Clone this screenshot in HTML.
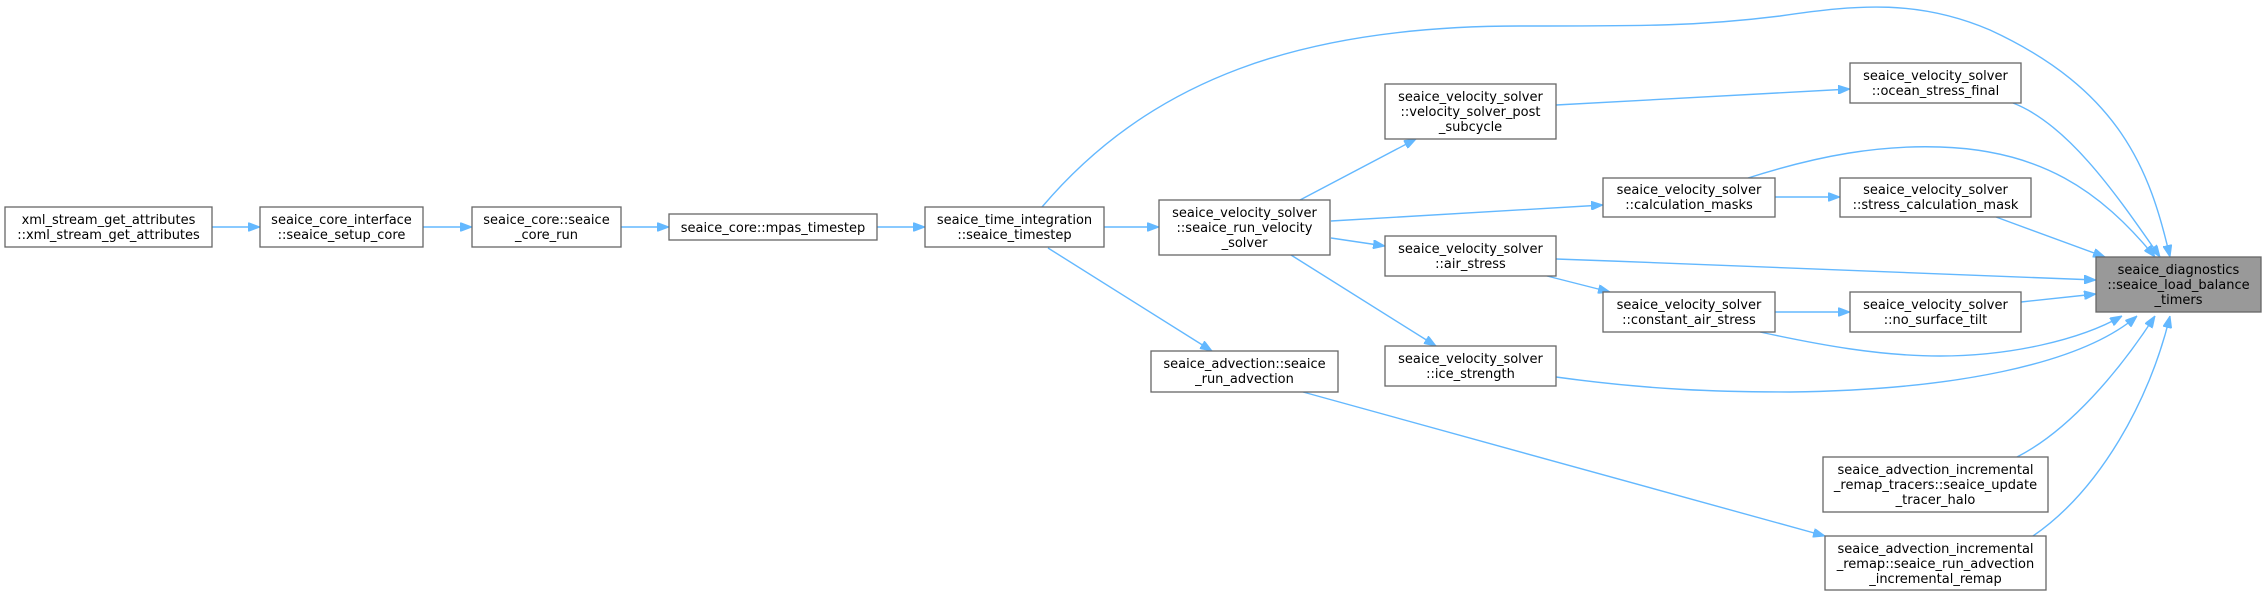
<!DOCTYPE html>
<html><head><meta charset="utf-8"><style>
html,body{margin:0;padding:0;background:#fff;}
svg{display:block;}
text{font-family:"DejaVu Sans","Liberation Sans",sans-serif;font-size:13px;fill:#000;text-anchor:middle;}
.n{fill:#fff;stroke:#666;stroke-width:1.3;}
.e{fill:none;stroke:#63b8ff;stroke-width:1.4;}
</style></head><body>
<svg width="2267" height="598" viewBox="0 0 2267 598" xmlns="http://www.w3.org/2000/svg">
<defs><marker id="a" viewBox="0 0 12 9" refX="12" refY="4.5" markerWidth="12" markerHeight="9" markerUnits="userSpaceOnUse" orient="auto"><path d="M0,0 L12,4.5 L0,9 z" fill="#63b8ff" stroke="#63b8ff"/></marker></defs>

<g class="edges">
<path class="e" marker-end="url(#a)" d="M212,227 L260,227"/>
<path class="e" marker-end="url(#a)" d="M423,227 L472,227"/>
<path class="e" marker-end="url(#a)" d="M621,227 L669,227"/>
<path class="e" marker-end="url(#a)" d="M877,227 L925,227"/>
<path class="e" marker-end="url(#a)" d="M1104,227 L1159,227"/>
<path class="e" marker-end="url(#a)" d="M1048,248 L1212,351"/>
<path class="e" marker-end="url(#a)" d="M1042,207 C1150,80 1300,26 1520,26 C1650,26 1700,26 1780,16 C1860,4 1920,0 1990,30 C2120,90 2150,170 2170,257"/>
<path class="e" marker-end="url(#a)" d="M1300,200 L1416,139"/>
<path class="e" marker-end="url(#a)" d="M1331,221 L1603,205"/>
<path class="e" marker-end="url(#a)" d="M1331,238 L1385,246"/>
<path class="e" marker-end="url(#a)" d="M1291,255 L1436,346"/>
<path class="e" marker-end="url(#a)" d="M1556,105 L1850,89"/>
<path class="e" marker-end="url(#a)" d="M2013,103 C2070,125 2120,200 2160,257"/>
<path class="e" marker-end="url(#a)" d="M1748,178 C1820,155 1880,145 1940,147 C2040,150 2100,190 2155,257"/>
<path class="e" marker-end="url(#a)" d="M1775,197 L1840,197"/>
<path class="e" marker-end="url(#a)" d="M1996,217 L2105,257"/>
<path class="e" marker-end="url(#a)" d="M1556,259 C1750,266 1950,274 2096,280"/>
<path class="e" marker-end="url(#a)" d="M1547,276 L1610,292"/>
<path class="e" marker-end="url(#a)" d="M1775,312 L1850,312"/>
<path class="e" marker-end="url(#a)" d="M2021,302 L2096,294"/>
<path class="e" marker-end="url(#a)" d="M1760,332 C1820,345 1880,356 1940,356 C2010,356 2080,340 2122,316"/>
<path class="e" marker-end="url(#a)" d="M1556,377 C1650,390 1720,392 1790,392 C1950,390 2080,365 2137,316"/>
<path class="e" marker-end="url(#a)" d="M1303,392 L1825,536"/>
<path class="e" marker-end="url(#a)" d="M2017,457 C2070,430 2120,370 2155,316"/>
<path class="e" marker-end="url(#a)" d="M2033,536 C2100,490 2150,400 2170,316"/>
</g>

<g>
<rect class="n" x="5" y="207" width="207" height="40"/>
<text x="108.5" y="224">xml_stream_get_attributes</text><text x="108.5" y="239">::xml_stream_get_attributes</text>

<rect class="n" x="260" y="207" width="163" height="40"/>
<text x="341.5" y="224">seaice_core_interface</text><text x="341.5" y="239">::seaice_setup_core</text>

<rect class="n" x="472" y="207" width="149" height="40"/>
<text x="546.5" y="224">seaice_core::seaice</text><text x="546.5" y="239">_core_run</text>

<rect class="n" x="669" y="214" width="208" height="26"/>
<text x="773" y="232">seaice_core::mpas_timestep</text>

<rect class="n" x="925" y="207" width="179" height="40"/>
<text x="1014.5" y="224">seaice_time_integration</text><text x="1014.5" y="239">::seaice_timestep</text>

<rect class="n" x="1159" y="200" width="171" height="55"/>
<text x="1244.5" y="217">seaice_velocity_solver</text><text x="1244.5" y="232">::seaice_run_velocity</text><text x="1244.5" y="247">_solver</text>

<rect class="n" x="1151" y="351" width="187" height="41"/>
<text x="1244.5" y="368">seaice_advection::seaice</text><text x="1244.5" y="383">_run_advection</text>

<rect class="n" x="1385" y="84" width="171" height="55"/>
<text x="1470.5" y="101">seaice_velocity_solver</text><text x="1470.5" y="116">::velocity_solver_post</text><text x="1470.5" y="131">_subcycle</text>

<rect class="n" x="1385" y="236" width="171" height="40"/>
<text x="1470.5" y="253">seaice_velocity_solver</text><text x="1470.5" y="268">::air_stress</text>

<rect class="n" x="1385" y="346" width="171" height="40"/>
<text x="1470.5" y="363">seaice_velocity_solver</text><text x="1470.5" y="378">::ice_strength</text>

<rect class="n" x="1603" y="178" width="172" height="39"/>
<text x="1689" y="194">seaice_velocity_solver</text><text x="1689" y="209">::calculation_masks</text>

<rect class="n" x="1603" y="292" width="172" height="40"/>
<text x="1689" y="309">seaice_velocity_solver</text><text x="1689" y="324">::constant_air_stress</text>

<rect class="n" x="1850" y="63" width="171" height="40"/>
<text x="1935.5" y="80">seaice_velocity_solver</text><text x="1935.5" y="95">::ocean_stress_final</text>

<rect class="n" x="1840" y="178" width="191" height="39"/>
<text x="1935.5" y="194">seaice_velocity_solver</text><text x="1935.5" y="209">::stress_calculation_mask</text>

<rect class="n" x="1850" y="292" width="171" height="40"/>
<text x="1935.5" y="309">seaice_velocity_solver</text><text x="1935.5" y="324">::no_surface_tilt</text>

<rect class="n" x="1823" y="457" width="225" height="55"/>
<text x="1935.5" y="474">seaice_advection_incremental</text><text x="1935.5" y="489">_remap_tracers::seaice_update</text><text x="1935.5" y="504">_tracer_halo</text>

<rect class="n" x="1825" y="536" width="221" height="54"/>
<text x="1935.5" y="553">seaice_advection_incremental</text><text x="1935.5" y="568">_remap::seaice_run_advection</text><text x="1935.5" y="583">_incremental_remap</text>

<rect x="2096" y="257" width="165" height="55" fill="#999" stroke="#666" stroke-width="1.3"/>
<text x="2178.5" y="274">seaice_diagnostics</text><text x="2178.5" y="289">::seaice_load_balance</text><text x="2178.5" y="304">_timers</text>
</g>
</svg>
</body></html>
